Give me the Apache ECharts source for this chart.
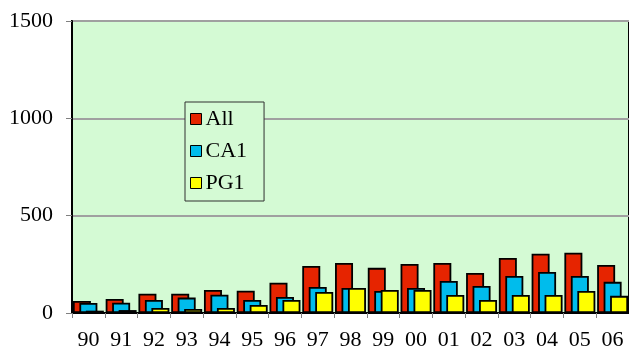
<!DOCTYPE html>
<html>
<head>
<meta charset="utf-8">
<script src="https://cdn.jsdelivr.net/npm/echarts@6/dist/echarts.min.js"></script>
<style>
  html, body { margin: 0; padding: 0; background: #ffffff; }
  #chart { width: 629px; height: 354px; }
</style>
</head>
<body>
<div id="chart"></div>
<script>
// Years shown on the category axis
const years = ['90', '91', '92', '93', '94', '95', '96', '97', '98', '99', '00', '01', '02', '03', '04', '05', '06'];

// Yearly counts per group
const allCounts = [62, 72, 99, 99, 118, 114, 156, 242, 257, 232, 252, 257, 206, 283, 304, 310, 247];
const ca1Counts = [51, 53, 67, 79, 94, 67, 82, 134, 129, 113, 129, 165, 139, 190, 211, 190, 160];
const pg1Counts = [12, 15, 26, 21, 26, 41, 67, 108, 129, 118, 118, 93, 67, 93, 93, 113, 88];

// Value axis ticks
const yMin = 0, yMax = 1500, yStep = 500;

const serif = '"Liberation Serif", "Times New Roman", serif';

const chart = echarts.init(document.getElementById('chart'), null, { renderer: 'canvas' });

function barSeries(name, data, color) {
  return {
    name: name,
    type: 'bar',
    data: data,
    barWidth: 18,
    barGap: '-64%',
    itemStyle: { color: color, borderColor: '#000000', borderWidth: 1.8 },
    emphasis: { disabled: true },
    animation: false
  };
}

chart.setOption({
  animation: false,
  textStyle: { fontFamily: serif },
  grid: {
    left: 72, right: -3, top: 21, bottom: 41,
    show: true,
    backgroundColor: '#d4fad4',
    borderColor: '#000000',
    borderWidth: 2
  },
  legend: {
    orient: 'vertical',
    left: 185, top: 102,
    padding: [6, 17, 7, 5],
    itemGap: 10,
    itemWidth: 11, itemHeight: 11,
    icon: 'rect',
    borderColor: '#303030',
    borderWidth: 1,
    backgroundColor: '#d4fad4',
    itemStyle: { borderColor: '#000000', borderWidth: 1 },
    textStyle: { fontFamily: serif, fontSize: 22, color: '#000000', padding: [0, 0, 0, -1] },
    data: ['All', 'CA1', 'PG1']
  },
  xAxis: {
    type: 'category',
    data: years,
    boundaryGap: true,
    axisLine: { lineStyle: { color: '#000000', width: 2 } },
    axisTick: { show: true, length: 5, lineStyle: { color: '#808080', width: 1 } },
    axisLabel: { fontFamily: serif, fontSize: 22, color: '#000000', margin: 16, interval: 0 },
    splitLine: { show: false }
  },
  yAxis: {
    type: 'value',
    min: yMin, max: yMax, interval: yStep,
    axisLine: { show: true, lineStyle: { color: '#000000', width: 2 } },
    axisTick: { show: true, length: 6, lineStyle: { color: '#808080', width: 1 } },
    axisLabel: {
      fontFamily: serif, fontSize: 22, color: '#000000', margin: 19,
      formatter: function (v) { return String(v); }
    },
    splitLine: { show: true, lineStyle: { color: '#a0a0a0', width: 2 } }
  },
  series: [
    barSeries('All', allCounts, '#e62400'),
    barSeries('CA1', ca1Counts, '#00bcec'),
    barSeries('PG1', pg1Counts, '#ffff00')
  ]
});
</script>
</body>
</html>
